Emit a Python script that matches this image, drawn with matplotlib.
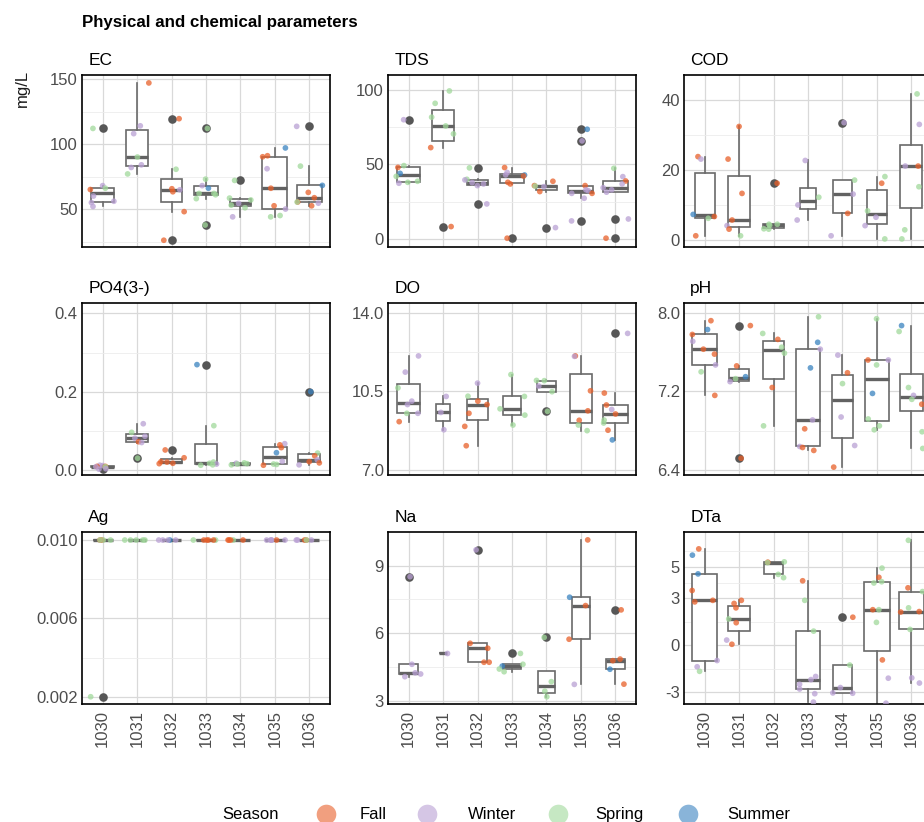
import numpy as np
import matplotlib
matplotlib.use("Agg")
import matplotlib.pyplot as plt
from matplotlib.ticker import FixedLocator, FixedFormatter

plt.rcParams['font.family'] = ['Liberation Sans', 'DejaVu Sans']
plt.rcParams['axes.unicode_minus'] = False

# ---------------------------------------------------------------- data
STATIONS = ["1030", "1031", "1032", "1033", "1034", "1035", "1036"]
SEASONS = ["Fall", "Winter", "Spring", "Summer"]
SEASON_CODE = {"F": "Fall", "W": "Winter", "S": "Spring", "U": "Summer"}
SEASON_COLORS = {"Fall": "#E8602A", "Winter": "#B9A0D4",
                 "Spring": "#A1D99B", "Summer": "#3A83C0"}

EC_VALUES = [[112, 68, 66, 65, 60, 56, 55, 52],
             [147, 114, 108, 90, 84, 82, 77],
             [119.5, 80.6, 65.6, 64.8, 63.3, 48, 26],
             [112, 73, 68, 66, 62, 62, 61, 58, 37.7],
             [72, 58.4, 57, 54.4, 53, 51, 44],
             [97, 91, 90.2, 81, 66, 52.5, 50, 45, 44],
             [113.6, 83, 68.2, 62.8, 58.7, 55.4, 55.4, 54.5, 52.5]]
EC_SEASONS = ["SWSFWWWW", "FWWSWWS", "FSFWFFF", "SSWUSSSSS",
              "SSSWSSW", "UFFWFFWSS", "WSUFFFSWF"]

TDS_VALUES = [[80, 49.2, 48, 44, 42, 38.7, 38, 37.4],
              [99.3, 91, 81.7, 75.8, 70.5, 61.3, 8.3],
              [47.7, 40, 39.6, 37.8, 36.9, 35.8, 23.5],
              [47.9, 44.6, 43, 42.9, 42.2, 38, 36.9, 0.5],
              [38.7, 35.8, 35.5, 35.1, 31.8, 7.6],
              [73.6, 65.8, 35.8, 33, 32.4, 30.6, 30.6, 27.3, 12.1],
              [47.4, 41.8, 38.9, 36.9, 34.4, 33, 31.4, 13.4, 0.5]]
TDS_SEASONS = ["WSFUSSSW", "SSSSSFF", "SSWWWWW", "FWWUFFFF",
               "FFSWFW", "UWFWWFWWW", "SWFWWWWWF"]

COD_VALUES = [[23.8, 23.1, 7.3, 6.7, 6.2, 1.2],
              [32.4, 23.1, 13.3, 5.7, 4.1, 3.1, 1.2],
              [16.2, 4.5, 4.5, 4.2, 3.2, 3.1],
              [22.7, 12.2, 10, 5.7],
              [33.5, 17.1, 13.1, 7.6, 1.2],
              [18.1, 16.2, 8.3, 6.5, 4.1, 0.3],
              [41.7, 33, 21.1, 21.1, 15.2, 2.9, 0.3]]
COD_SEASONS = ["FWUFSF", "FFFFWFS", "FSSSSS", "WSWW",
               "WSWFW", "SFSWWS", "SWFWSSS"]

PO4_VALUES = [[0.012, 0.011, 0.009, 0.009, 0.008, 0.008, 0.003, 0.002],
              [0.118, 0.096, 0.086, 0.081, 0.072, 0.07, 0.03],
              [0.051, 0.031, 0.021, 0.02, 0.017, 0.016],
              [0.269, 0.113, 0.02, 0.017, 0.015, 0.013, 0.012],
              [0.018, 0.017, 0.016, 0.015, 0.013],
              [0.067, 0.064, 0.057, 0.044, 0.022, 0.015, 0.014, 0.012],
              [0.2, 0.043, 0.036, 0.026, 0.021, 0.018, 0.013]]
PO4_SEASONS = ["WWFFSWWW", "WSWWFWS", "FFFFFF", "USSSWSS",
               "SWSSS", "WFFUWSSF", "USFWFFW"]

DO_VALUES = [[12.08, 11.36, 10.66, 10.07, 9.92, 9.53, 9.53, 9.16],
             [10.28, 9.57, 8.8],
             [10.87, 10.29, 10.07, 9.92, 9.53, 8.95, 8.09],
             [11.25, 10.28, 9.73, 9.45, 9.01],
             [10.99, 10.98, 10.74, 10.49, 9.62],
             [12.08, 12.06, 10.53, 9.64, 9.22, 9.01, 8.76],
             [13.08, 10.43, 9.9, 9.7, 9.5, 9.23, 9.1, 8.78, 8.35]]
DO_SEASONS = ["WWSWWSWF", "WWW", "WSFFFFF", "SSSSS",
              "SSWSS", "FWFFFSS", "WFFWFSSFU"]

PH_VALUES = [[7.92, 7.83, 7.78, 7.71, 7.63, 7.58, 7.47, 7.40, 7.16],
             [7.87, 7.46, 7.35, 7.33, 7.30, 6.52],
             [7.79, 7.73, 7.65, 7.59, 7.24, 6.85],
             [7.96, 7.70, 7.63, 7.44, 6.91, 6.82, 6.64, 6.63, 6.60],
             [7.57, 7.39, 7.28, 6.94, 6.65, 6.43],
             [7.94, 7.52, 7.52, 7.47, 7.18, 6.92, 6.85, 6.81],
             [7.87, 7.81, 7.24, 7.16, 7.12, 7.07, 6.79, 6.62]]
PH_SEASONS = ["FUFWFFWSF", "FFUSWF", "SFSSFS", "SUWUWFWFF",
              "WFSWWF", "SFWSUSSS", "USSWSFSS"]

AG_VALUES = [[0.01, 0.01, 0.01, 0.01, 0.01, 0.002],
             [0.01, 0.01, 0.01, 0.01, 0.01],
             [0.01, 0.01, 0.01, 0.01, 0.01],
             [0.01, 0.01, 0.01, 0.01, 0.01, 0.01],
             [0.01, 0.01, 0.01, 0.01, 0.01],
             [0.01, 0.01, 0.01, 0.01, 0.01, 0.01],
             [0.01, 0.01, 0.01, 0.01, 0.01, 0.01]]
AG_SEASONS = ["SFSFSS", "SSSSS", "UWWWW", "FFSFFS",
              "FFSFF", "WWFWWW", "WWFFSW"]

NA_VALUES = [[8.51, 4.63, 4.25, 4.2, 4.08],
             [5.12],
             [9.70, 5.56, 5.34, 4.72, 4.72],
             [5.11, 4.63, 4.55, 4.42, 4.3],
             [5.82, 3.86, 3.44, 3.19],
             [10.14, 7.6, 7.23, 5.74, 3.74],
             [7.04, 4.86, 4.79, 4.41, 3.75]]
NA_SEASONS = ["WWWWW", "W", "WFFFF", "SSUSS",
              "SSSS", "FUFFW", "FFFUF"]

DTA_VALUES = [[6.16, 5.76, 4.56, 3.5, 2.87, 2.77, -0.98, -1.38, -1.67],
              [2.87, 2.67, 2.39, 1.68, 1.44, 0.33, 0.06],
              [5.33, 5.31, 5.28, 4.53, 4.32],
              [4.12, 2.87, 0.9, -2.0, -2.2, -2.5, -2.8, -3.1, -3.64],
              [1.79, -1.27, -2.71, -3.05, -3.07],
              [4.93, 4.34, 4.06, 3.98, 2.27, 2.27, 1.46, -0.94, -2.11, -3.71],
              [6.71, 3.67, 3.43, 2.39, 2.15, 2.12, 1.01, -2.09, -2.42]]
DTA_SEASONS = ["FUUFFFWWS", "FFFSFWF", "SFSSS", "FSSWWWWWW",
               "FSWWW", "SFSSFSSFWW", "SFSSFFSWW"]

# name, values, seasons, y limits, major ticks, minor ticks, tick labels
PANELS = [
    ("EC", EC_VALUES, EC_SEASONS, (20.8, 153.1), [50, 100, 150], [25, 75, 125],
     ["50", "100", "150"]),
    ("TDS", TDS_VALUES, TDS_SEASONS, (-5.4, 110), [0, 50, 100], [25, 75],
     ["0", "50", "100"]),
    ("COD", COD_VALUES, COD_SEASONS, (-2.0, 47.1), [0, 20, 40], [10, 30],
     ["0", "20", "40"]),
    ("PO4(3-)", PO4_VALUES, PO4_SEASONS, (-0.013, 0.4265), [0.0, 0.2, 0.4], [0.1, 0.3],
     ["0.0", "0.2", "0.4"]),
    ("DO", DO_VALUES, DO_SEASONS, (6.79, 14.43), [7.0, 10.5, 14.0], [8.75, 12.25],
     ["7.0", "10.5", "14.0"]),
    ("pH", PH_VALUES, PH_SEASONS, (6.35, 8.1), [6.4, 7.2, 8.0], [6.8, 7.6],
     ["6.4", "7.2", "8.0"]),
    ("Ag", AG_VALUES, AG_SEASONS, (0.00163, 0.01041), [0.002, 0.006, 0.010],
     [0.004, 0.008], ["0.002", "0.006", "0.010"]),
    ("Na", NA_VALUES, NA_SEASONS, (2.87, 10.49), [3, 6, 9], [4.5, 7.5],
     ["3", "6", "9"]),
    ("DTa", DTA_VALUES, DTA_SEASONS, (-3.76, 7.24), [-3, 0, 3, 5], [-1.5, 1.5, 4, 6],
     ["-3", "0", "3", "5"]),
]

# ---------------------------------------------------------------- layout (pixels)
W, H = 924, 822
COL_LEFT = [82, 388, 684]
ROW_TOP = [75, 303, 532]
PANEL_W, PANEL_H = 248, 172

GRID_MAJOR = "#d9d9d9"
GRID_MINOR = "#ececec"
BOX_COLOR = "#6a6a6a"
TICK_COLOR = "#4d4d4d"
TICK_SIZE = 12

fig = plt.figure(figsize=(W / 100, H / 100), dpi=100)
rng = np.random.default_rng(11)

for k, (name, values, seasons, ylim, major, minor, labels) in enumerate(PANELS):
    r, c = divmod(k, 3)
    left = COL_LEFT[c] / W
    bottom = 1 - (ROW_TOP[r] + PANEL_H) / H
    ax = fig.add_axes([left, bottom, PANEL_W / W, PANEL_H / H])
    positions = np.arange(1, len(STATIONS) + 1)

    widths = [min(0.24 * np.sqrt(len(v)), 0.78) for v in values]
    bp = ax.boxplot(values, positions=positions, widths=widths, whis=1.5,
                    patch_artist=True, showcaps=False, manage_ticks=False,
                    boxprops=dict(facecolor="white", edgecolor=BOX_COLOR, linewidth=1.2),
                    medianprops=dict(color="#626262", linewidth=2.4),
                    whiskerprops=dict(color=BOX_COLOR, linewidth=1.2),
                    flierprops=dict(marker="o", markerfacecolor="#575757",
                                    markeredgecolor="none", markersize=6.2))
    for artist_list in bp.values():
        for a in artist_list:
            a.set_zorder(2)

    for i, (vals, codes) in enumerate(zip(values, seasons)):
        xs = positions[i] + rng.uniform(-0.38, 0.38, len(vals))
        cols = [SEASON_COLORS[SEASON_CODE[ch]] for ch in codes]
        ax.scatter(xs, vals, s=17, c=cols, alpha=0.75, linewidths=0, zorder=3)

    ax.set_xlim(0.4, len(STATIONS) + 0.6)
    ax.set_ylim(*ylim)
    ax.yaxis.set_major_locator(FixedLocator(major))
    ax.yaxis.set_major_formatter(FixedFormatter(labels))
    ax.yaxis.set_minor_locator(FixedLocator(minor))
    ax.set_xticks(positions)
    if r == 2:
        ax.set_xticklabels(STATIONS, rotation=90)
    else:
        ax.set_xticklabels([])

    ax.set_axisbelow(True)
    ax.grid(which="major", color=GRID_MAJOR, linewidth=0.9)
    ax.grid(which="minor", axis="y", color=GRID_MINOR, linewidth=0.6)
    ax.tick_params(which="both", length=0)
    ax.tick_params(axis="y", pad=3, labelsize=TICK_SIZE, labelcolor=TICK_COLOR)
    ax.tick_params(axis="x", pad=4, labelsize=TICK_SIZE, labelcolor=TICK_COLOR)
    for sp in ax.spines.values():
        sp.set_color("black")
        sp.set_linewidth(1.2)

    ax.annotate(name, xy=(0, 1), xycoords="axes fraction", xytext=(4.5, 5),
                textcoords="offset points", ha="left", va="bottom",
                fontsize=12.5, color="black")

# title and axis label
fig.text(82 / W, 1 - 22 / H, "Physical and chemical parameters",
         fontsize=12.2, fontweight="bold", ha="left", va="center")
fig.text(22 / W, 1 - 88 / H, "mg/L", rotation=90, fontsize=12,
         ha="center", va="center", color="#1a1a1a")

# legend along the bottom
lax = fig.add_axes([0, 0, 1, 1])
lax.set_xlim(0, W)
lax.set_ylim(H, 0)
lax.axis("off")
LEG_Y = 814
lax.text(222, LEG_Y, "Season", fontsize=12, ha="left", va="center")
KEY_X = [326, 427, 558, 688]
LABEL_X = [360, 468, 595, 727]
for season, kx, tx in zip(SEASONS, KEY_X, LABEL_X):
    lax.scatter([kx], [LEG_Y], s=200, color=SEASON_COLORS[season], alpha=0.6,
                linewidths=0)
    lax.text(tx, LEG_Y, season, fontsize=12, ha="left", va="center")

fig.savefig("out.png", dpi=100)
